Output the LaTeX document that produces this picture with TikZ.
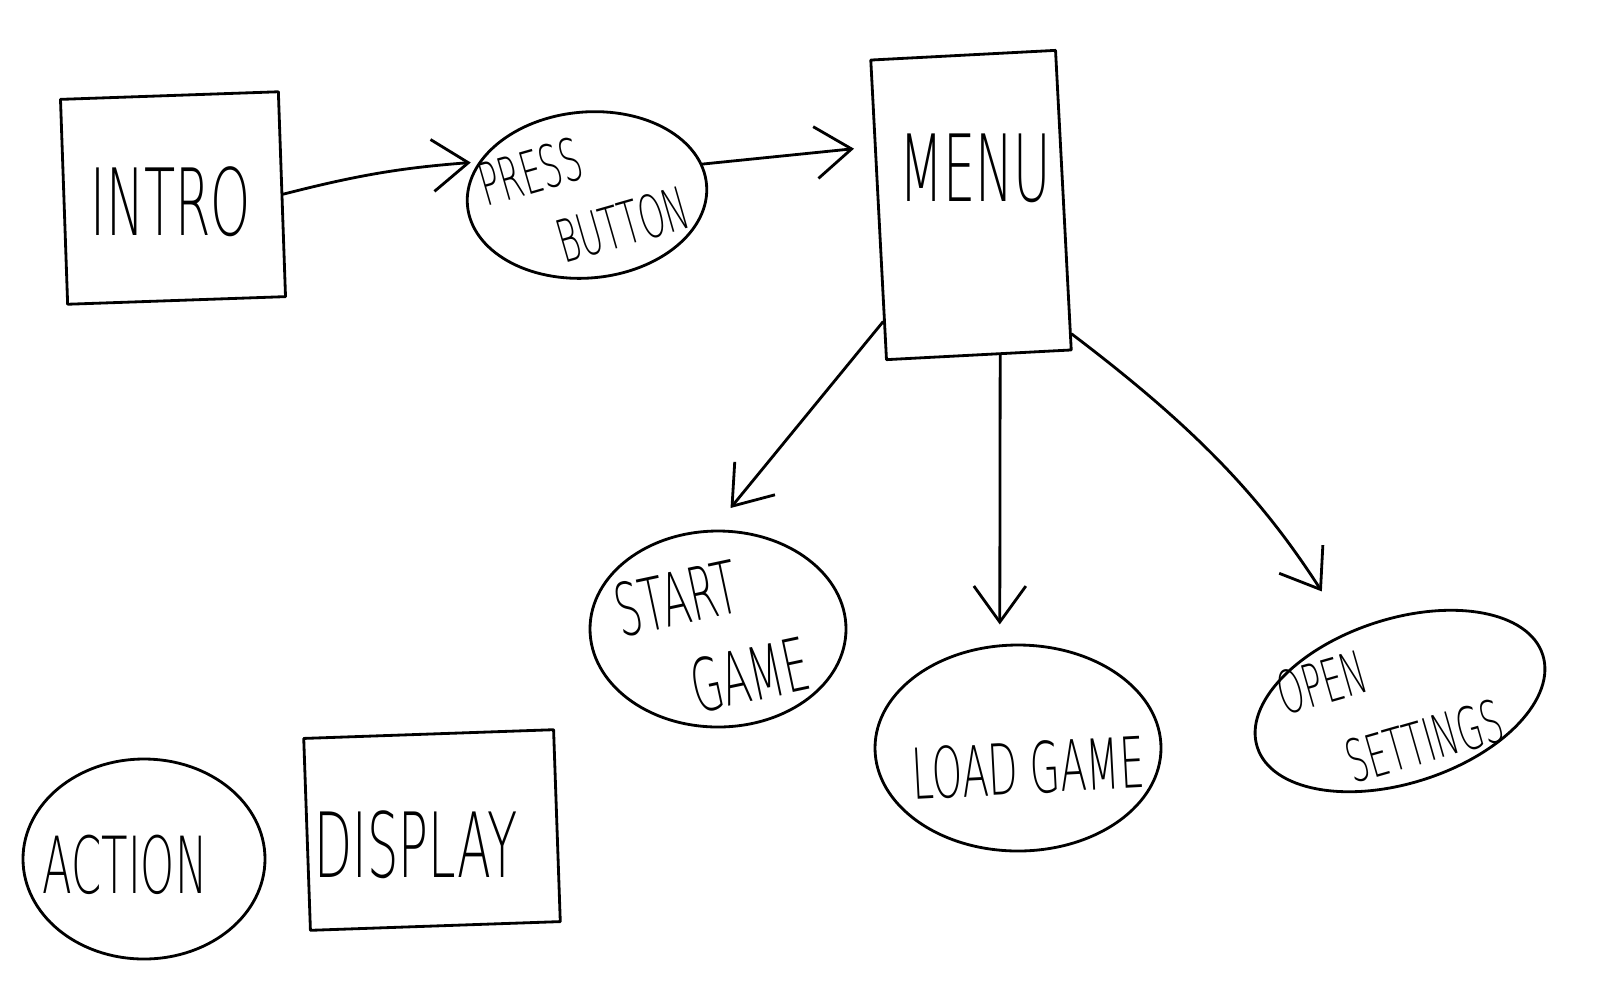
\documentclass[tikz,border=0pt]{standalone}
\usepackage{fontspec}
\setmainfont{DejaVu Sans ExtraLight}[FakeStretch=0.55]
\usetikzlibrary{arrows.meta,shapes.geometric}
\begin{document}
\begin{tikzpicture}[x=0.25mm,y=-0.25mm,
  pen/.style={line width=2pt, line cap=round, line join=round},
  box/.style={pen, draw, rectangle, inner sep=0pt},
  oval/.style={pen, draw, ellipse, inner sep=0pt},
  txt/.style={align=center, inner sep=0pt},
  twoline/.style={align=left, inner sep=0pt},
  link/.style={pen, -{Straight Barb[length=9mm,width=13mm,line width=2pt]}},
]
\useasboundingbox (0,0) rectangle (1600,1000);
% shapes
\node[box, minimum width=218*0.25mm, minimum height=205*0.25mm, rotate=2] (intro) at (173,198) {};
\node[oval, minimum width=240*0.25mm, minimum height=166*0.25mm, rotate=5] (press) at (587,195) {};
\node[box, minimum width=185*0.25mm, minimum height=300*0.25mm, rotate=3] (menu) at (971,205) {};
\node[oval, minimum width=256*0.25mm, minimum height=196*0.25mm] (start) at (718,629) {};
\node[oval, minimum width=286*0.25mm, minimum height=206*0.25mm] (load) at (1018,748) {};
\node[oval, minimum width=300*0.25mm, minimum height=164*0.25mm, rotate=18] (open) at (1400,701) {};
\node[oval, minimum width=242*0.25mm, minimum height=200*0.25mm] (action) at (144,859) {};
\node[box, minimum width=250*0.25mm, minimum height=192*0.25mm, rotate=2] (display) at (432,830) {};
% labels
\node[txt, font=\fontsize{66}{70}\selectfont] (introT) at (171,202) {INTRO};
\node[twoline, font=\fontsize{42}{54}\selectfont, rotate=16] (pressT) at (584,196) {PRESS\\\hspace*{1.0em}BUTTON};
\node[txt, font=\fontsize{66}{70}\selectfont] (menuT) at (975,168) {MENU};
\node[twoline, font=\fontsize{52}{64}\selectfont, rotate=12] (startT) at (712,637) {START\\\hspace*{0.8em}GAME};
\node[txt, font=\fontsize{50}{55}\selectfont, rotate=3] (loadT) at (1028,768) {LOAD GAME};
\node[twoline, font=\fontsize{42}{60}\selectfont, rotate=16] (openT) at (1390,707) {OPEN\\\hspace*{0.8em}SETTINGS};
\node[txt, font=\fontsize{56}{60}\selectfont] (actionT) at (125,865) {ACTION};
\node[txt, font=\fontsize{64}{70}\selectfont] (displayT) at (416,845) {DISPLAY};
% connectors
\draw[link, shorten >=2mm] (intro.east) to[bend left=5] (press.158);
\draw[link, shorten >=5mm] (press.10) -- (menu.146);
\draw[link, shorten >=7mm] (menu.230) -- (start.93);
\draw[link, shorten >=5mm] (menu.278) -- (load.100);
\draw[link, shorten >=12mm] (menu.305) to[bend left=10] (open.109);
\end{tikzpicture}
\end{document}
